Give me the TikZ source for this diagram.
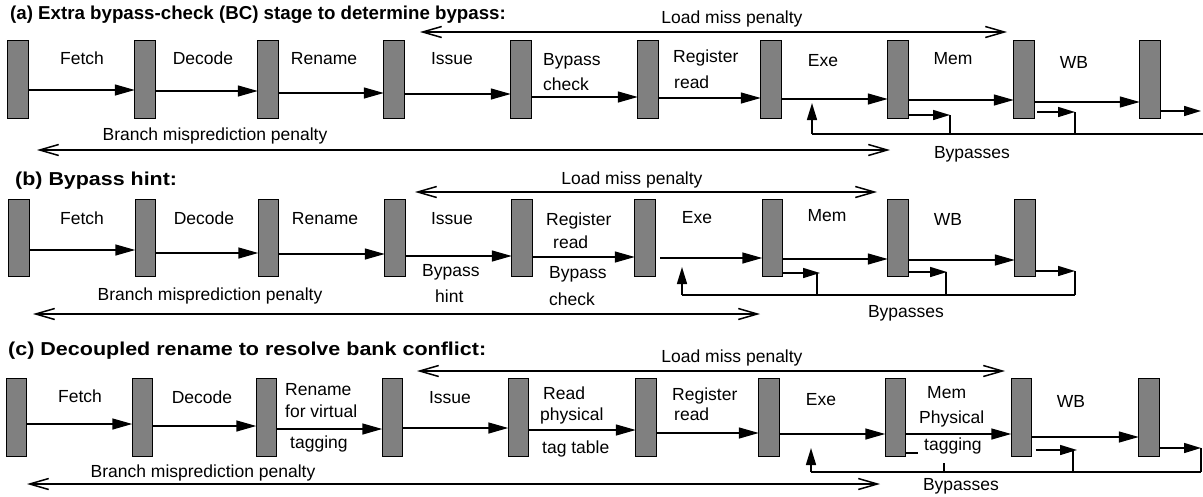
\documentclass[tikz,border=0pt]{standalone}
\usepackage{fontspec}
\setmainfont{Liberation Sans}
\usetikzlibrary{arrows.meta}
\definecolor{latchgray}{HTML}{808080}
\begin{document}
\begin{tikzpicture}[x=1pt,y=-1pt,
  latch/.style={draw=black,fill=latchgray,line width=1.4pt,minimum width=20.5pt,minimum height=77.5pt,inner sep=0pt,outer sep=0pt},
  lbl/.style={font=\fontsize{17.5}{21}\selectfont,inner sep=0pt,anchor=base},
  lblw/.style={font=\fontsize{17.5}{21}\selectfont,inner sep=0pt,anchor=base west},
  ttl/.style={font=\fontsize{18.7}{22}\selectfont\bfseries,inner sep=0pt,anchor=base west},
  flow/.style={line width=1.5pt,-{Triangle[length=20pt,width=11pt]}},
  byp/.style={line width=1.5pt,-{Triangle[length=17pt,width=10pt]}},
  bus/.style={line width=1.5pt},
  pen/.style={line width=1.5pt,{Straight Barb[length=19pt,width=11pt]}-{Straight Barb[length=19pt,width=11pt]}}
]
\useasboundingbox (0,0) rectangle (1203,496);

% ================= (a) =================
\node[ttl] (ta) at (10,19) {(a) Extra bypass-check (BC) stage to determine bypass:};
\foreach \n/\x in {1/18,2/145,3/268,4/394,5/521,6/648,7/771,8/898,9/1024,10/1150}
  \node[latch] (a\n) at (\x,79.5) {};
\draw[flow] (a1.east |- 0,90) -- (a2.west |- 0,90);
\draw[flow] (a2.east |- 0,91) -- (a3.west |- 0,91);
\draw[flow] (a3.east |- 0,93) -- (a4.west |- 0,93);
\draw[flow] (a4.east |- 0,94) -- (a5.west |- 0,94);
\draw[flow] (a5.east |- 0,97) -- (a6.west |- 0,97);
\draw[flow] (a6.east |- 0,98) -- (a7.west |- 0,98);
\draw[flow] (a7.east |- 0,99) -- (a8.west |- 0,99);
\draw[flow] (a8.east |- 0,100) -- (a9.west |- 0,100);
\draw[flow] (a9.east |- 0,102) -- (a10.west |- 0,102);
% bypasses (a)
\coordinate (abL) at (812,134);
\coordinate (abR) at (1203,134);
\coordinate (abU) at (812,103);
\coordinate (ab1) at (950,115);
\coordinate (ab2) at (1075,112);
\coordinate (ab3) at (1201,111);
\draw[byp] (a8.east |- ab1) -- (ab1);
\draw[bus] (ab1) -- (ab1 |- abL);
\draw[byp] ([xshift=3pt]a9.east |- ab2) -- (ab2);
\draw[bus] (ab2) -- (ab2 |- abL);
\draw[byp] (a10.east |- ab3) -- (ab3);
\draw[bus] (abL) -- (abR);
\draw[byp] (abL) -- (abU);
\node[lbl] (byla) at (972,158) {Bypasses};
% labels (a)
\node[lbl] at (82,64) {Fetch};
\node[lbl] at (203,64) {Decode};
\node[lbl] at (324,64) {Rename};
\node[lbl] at (452,64) {Issue};
\node[lblw] at (543,65) {Bypass};
\node[lblw] at (543,90) {check};
\node[lblw] at (673,62) {Register};
\node[lblw] at (674,88) {read};
\node[lbl] at (823,66) {Exe};
\node[lbl] at (953,64) {Mem};
\node[lbl] at (1074,68) {WB};
% penalties (a)
\node[lbl] (lma) at (732,23) {Load miss penalty};
\coordinate (lmaL) at (420,32);
\coordinate (lmaR) at (1007,32);
\draw[pen] (lmaL) -- (lmaR);
\node[lbl] (bma) at (215,140) {Branch misprediction penalty};
\coordinate (bmaL) at (37,150);
\coordinate (bmaR) at (890,150);
\draw[pen] (bmaL) -- (bmaR);

% ================= (b) =================
\node[ttl] (tb) at (15,185) {\scalebox{1.146}[1]{(b) Bypass hint:}};
\foreach \n/\x in {1/19,2/145.5,3/268.5,4/395,5/522,6/645,7/772.5,8/898,9/1025}
  \node[latch] (b\n) at (\x,238) {};
\draw[flow] (b1.east |- 0,250) -- (b2.west |- 0,250);
\draw[flow] (b2.east |- 0,253) -- (b3.west |- 0,253);
\draw[flow] (b3.east |- 0,254) -- (b4.west |- 0,254);
\draw[flow] (b4.east |- 0,256) -- (b5.west |- 0,256);
\draw[flow] (b5.east |- 0,257) -- (b6.west |- 0,257);
\coordinate (bx) at (660,258);
\draw[flow] (bx) -- (b7.west |- bx);
\draw[flow] (b7.east |- 0,259) -- (b8.west |- 0,259);
\draw[flow] (b8.east |- 0,260) -- (b9.west |- 0,260);
% bypasses (b)
\coordinate (bbL) at (682,295);
\coordinate (bbR) at (1075,295);
\coordinate (bbU) at (682,267);
\coordinate (bb1) at (820,273);
\coordinate (bb2) at (947,272);
\coordinate (bb3) at (1075,271);
\draw[byp] (b7.east |- bb1) -- (bb1);
\draw[bus] ([xshift=-3pt]bb1) -- ([xshift=-3pt]bb1 |- bbL);
\draw[byp] (b8.east |- bb2) -- (bb2);
\draw[bus] ([xshift=-1pt]bb2) -- ([xshift=-1pt]bb2 |- bbL);
\draw[byp] (b9.east |- bb3) -- (bb3);
\draw[bus] (bb3) -- (bbR);
\draw[bus] (bbL) -- (bbR);
\draw[byp] (bbL) -- (bbU);
\node[lbl] (bylb) at (906,317) {Bypasses};
% labels (b)
\node[lbl] at (82,224) {Fetch};
\node[lbl] at (204,224) {Decode};
\node[lbl] at (325,224) {Rename};
\node[lbl] at (452,224) {Issue};
\node[lblw] at (422,276) {Bypass};
\node[lblw] at (435,302) {hint};
\node[lblw] at (546,225) {Register};
\node[lblw] at (553,248) {read};
\node[lblw] at (549,278) {Bypass};
\node[lblw] at (549,305) {check};
\node[lbl] at (697,223) {Exe};
\node[lbl] at (827,221) {Mem};
\node[lbl] at (948,225) {WB};
% penalties (b)
\node[lbl] (lmb) at (632,184) {Load miss penalty};
\coordinate (lmbL) at (415,192);
\coordinate (lmbR) at (877,192);
\draw[pen] (lmbL) -- (lmbR);
\node[lbl] (bmb) at (210,300) {Branch misprediction penalty};
\coordinate (bmbL) at (33,314);
\coordinate (bmbR) at (760,314);
\draw[pen] (bmbL) -- (bmbR);

% ================= (c) =================
\node[ttl] (tc) at (8,355) {\scalebox{1.15}[1]{(c) Decoupled rename to resolve bank conflict:}};
\foreach \n/\x in {1/16.5,2/142.5,3/266.5,4/392.5,5/518.5,6/646,7/769,8/895.5,9/1021.5,10/1149}
  \node[latch] (c\n) at (\x,417.5) {};
\draw[flow] (c1.east |- 0,424) -- (c2.west |- 0,424);
\draw[flow] (c2.east |- 0,426) -- (c3.west |- 0,426);
\draw[flow] (c3.east |- 0,429) -- (c4.west |- 0,429);
\draw[flow] (c4.east |- 0,428) -- (c5.west |- 0,428);
\draw[flow] (c5.east |- 0,430) -- (c6.west |- 0,430);
\draw[flow] (c6.east |- 0,433) -- (c7.west |- 0,433);
\draw[flow] (c7.east |- 0,434) -- (c8.west |- 0,434);
\draw[flow] (c8.east |- 0,434) -- (c9.west |- 0,434);
\draw[flow] (c9.east |- 0,437) -- (c10.west |- 0,437);
% bypasses (c)
\coordinate (cbL) at (811,472);
\coordinate (cbR) at (1201,472);
\coordinate (cbU) at (811,448);
\coordinate (cb1s) at (918,453);
\coordinate (cb1t) at (944,463);
\coordinate (cb2) at (1077,450);
\coordinate (cb3) at (1201,448);
\draw[bus] (c8.east |- cb1s) -- (cb1s);
\draw[bus] (cb1t) -- (cb1t |- cbL);
\draw[byp] ([xshift=4pt]c9.east |- cb2) -- (cb2);
\draw[bus] ([xshift=-4pt]cb2) -- ([xshift=-4pt]cb2 |- cbL);
\draw[byp] (c10.east |- cb3) -- (cb3);
\draw[bus] (cb3) -- (cbR);
\draw[bus] (cbL) -- (cbR);
\draw[byp] (cbL) -- (cbU);
\node[lbl] (bylc) at (961,490) {Bypasses};
% labels (c)
\node[lbl] at (80,402) {Fetch};
\node[lbl] at (202,403) {Decode};
\node[lblw] at (285,395) {Rename};
\node[lblw] at (285,417) {for virtual};
\node[lblw] at (290,448) {tagging};
\node[lbl] at (450,403) {Issue};
\node[lblw] at (543,399) {Read};
\node[lblw] at (540,420) {physical};
\node[lblw] at (542,453) {tag table};
\node[lblw] at (672,400) {Register};
\node[lblw] at (674,420) {read};
\node[lbl] at (821,405) {Exe};
\node[lblw] at (927,398) {Mem};
\node[lblw] at (919,423) {Physical};
\node[lblw] at (924,450) {tagging};
\node[lbl] at (1071,407) {WB};
% penalties (c)
\node[lbl] (lmc) at (732,362) {Load miss penalty};
\coordinate (lmcL) at (417,371);
\coordinate (lmcR) at (1005,371);
\draw[pen] (lmcL) -- (lmcR);
\node[lbl] (bmc) at (203,477) {Branch misprediction penalty};
\coordinate (bmcL) at (27,484);
\coordinate (bmcR) at (880,484);
\draw[pen] (bmcL) -- (bmcR);
\end{tikzpicture}
\end{document}
